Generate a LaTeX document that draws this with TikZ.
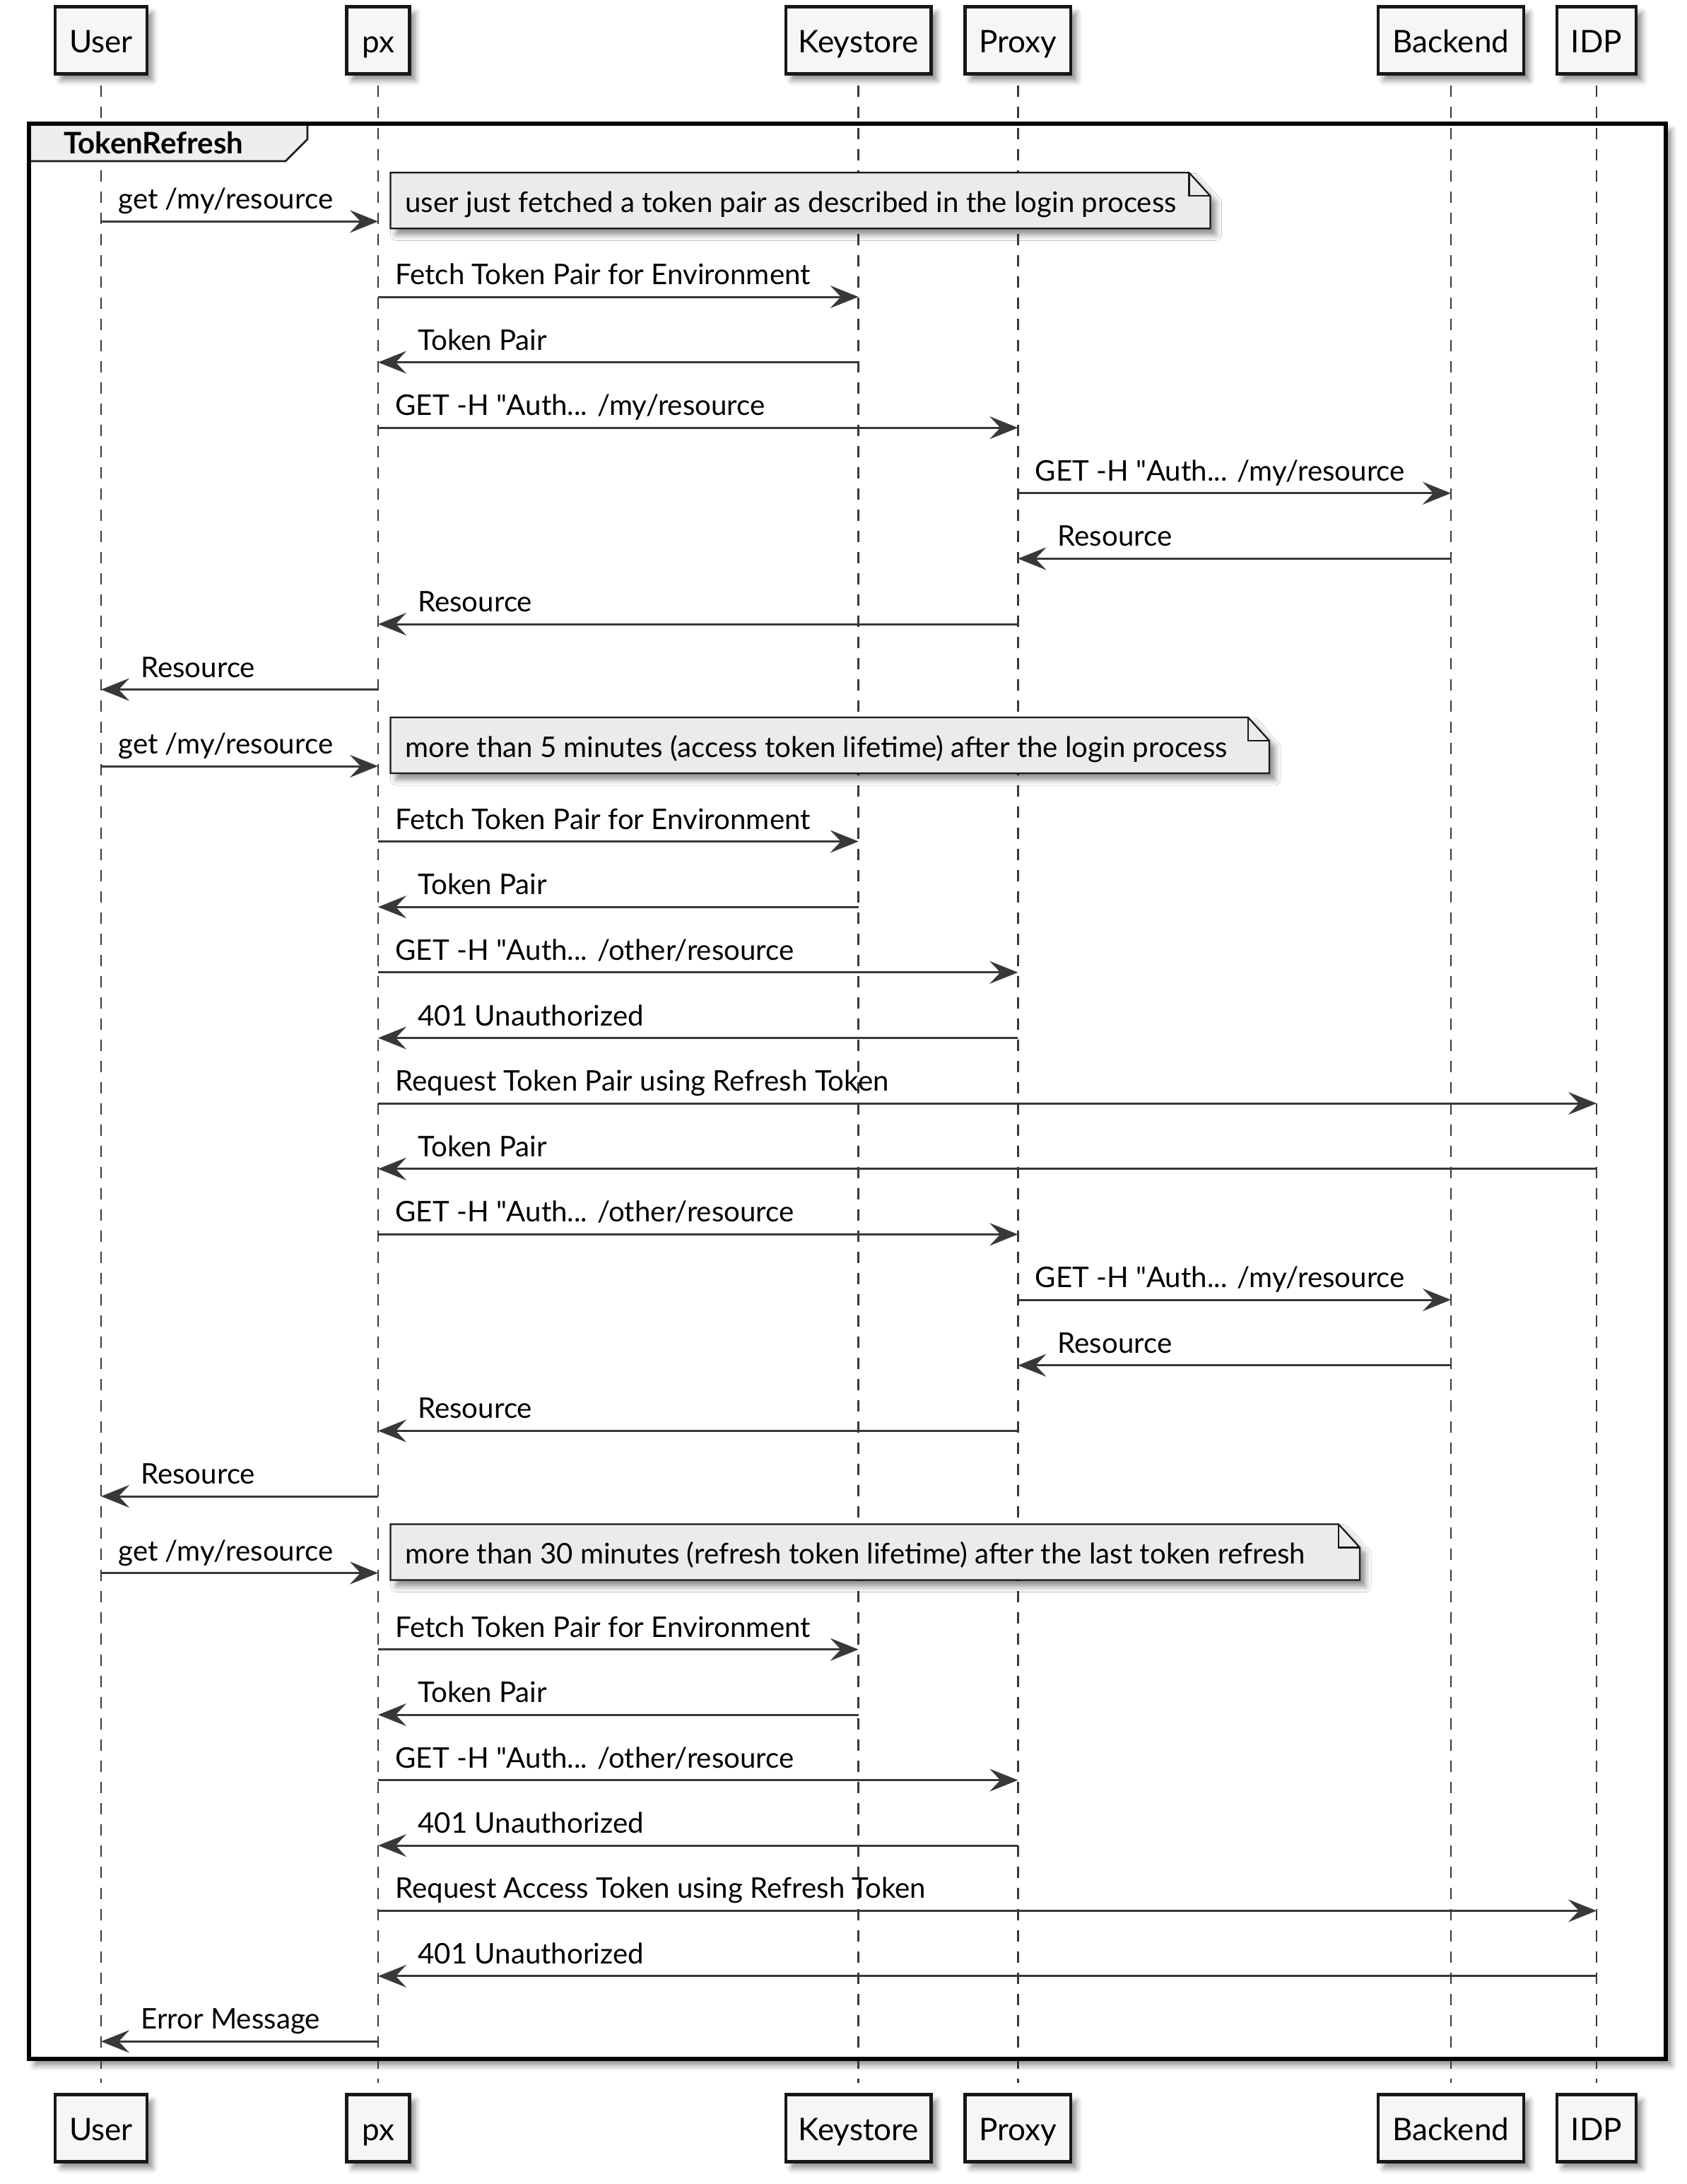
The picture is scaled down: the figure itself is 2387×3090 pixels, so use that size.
\documentclass[tikz,border=0pt]{standalone}
\usepackage{fontspec}
\setmainfont{Lato}
\usetikzlibrary{arrows.meta}
\usetikzlibrary{calc}
\usetikzlibrary{shadows.blur}

\definecolor{lineC}{HTML}{383838}
\definecolor{borderC}{HTML}{181818}
\definecolor{actorF}{HTML}{F6F6F6}
\definecolor{noteF}{HTML}{EBEBEB}
\definecolor{headF}{HTML}{EEEEEE}

\tikzset{
  softshadow/.style={blur shadow={shadow xshift=4pt, shadow yshift=-4.5pt, shadow blur radius=4pt, shadow opacity=45}},
  actor/.style={draw=borderC, fill=actorF, line width=2.2pt, minimum height=47.5pt, inner sep=0pt, text height=21pt, text depth=4pt, font=\fontsize{22}{26}\selectfont, softshadow},
  lifeline/.style={draw=lineC, line width=1.3pt, dash pattern=on 8pt off 7pt, shorten <=7pt, shorten >=7pt},
  msg/.style={draw=lineC, line width=1.5pt, -{Stealth[length=20pt, width=16pt, inset=7.5pt]}},
  msglabel/.style={anchor=base west, inner sep=0pt, font=\fontsize{20.1}{24}\selectfont},
  notebox/.style={draw=borderC, fill=noteF, line width=1.1pt, line join=miter, softshadow},
  grouphead/.style={draw=borderC, fill=headF, line width=1.4pt},
  groupframe/.style={draw=black, line width=3pt}
}

\begin{document}
\begin{tikzpicture}[x=0.5pt, y=-0.5pt]
  \useasboundingbox (0,0) rectangle (2387,3090);

  % frame of the TokenRefresh group
  \fill[white, softshadow] (41,175) rectangle (2357,2913);

  % participants, top and bottom
  \node[actor, minimum width=64.75pt] (user) at (143,57) {User};
  \node[actor, minimum width=44.5pt] (px) at (535,57) {px};
  \node[actor, minimum width=102.75pt] (ks) at (1214.7,57) {Keystore};
  \node[actor, minimum width=74.75pt] (proxy) at (1440.3,57) {Proxy};
  \node[actor, minimum width=103pt] (be) at (2053,57) {Backend};
  \node[actor, minimum width=56.25pt] (idp) at (2259,57) {IDP};

  \node[actor, minimum width=64.75pt] (user2) at (143,3011) {User};
  \node[actor, minimum width=44.5pt] (px2) at (535,3011) {px};
  \node[actor, minimum width=102.75pt] (ks2) at (1214.7,3011) {Keystore};
  \node[actor, minimum width=74.75pt] (proxy2) at (1440.3,3011) {Proxy};
  \node[actor, minimum width=103pt] (be2) at (2053,3011) {Backend};
  \node[actor, minimum width=56.25pt] (idp2) at (2259,3011) {IDP};

  \foreach \p in {user, px, ks, proxy, be, idp}
    \draw[lifeline] (\p.south) -- (\p2.north);

  \draw[grouphead] (41,175) -- (435,175) -- (435,197) -- (404,228) -- (41,228) -- cycle;
  \node[msglabel, font=\fontsize{21}{25}\selectfont\bfseries] (grp) at (90,217) {TokenRefresh};
  \draw[groupframe] (41,175) rectangle (2357,2913);

  % notes
  \foreach \y/\r/\t [count=\i] in {
      313.3/1712.5/{user just fetched a token pair as described in the login process},
      1084/1796/{more than 5 minutes (access token lifetime) after the login process},
      2225.5/1924/{more than 30 minutes (refresh token lifetime) after the last token refresh}
    }{
    \draw[notebox] (552.5,\y-69) -- (\r-30,\y-69) -- (\r,\y-36) -- (\r,\y+10) -- (552.5,\y+10) -- cycle;
    \draw[borderC, line width=1.1pt] (\r-30,\y-69) -- (\r-30,\y-36) -- (\r,\y-36);
    \node[msglabel] (note\i) at (573,\y-13) {\t};
  }

  % messages to the right
  \foreach \a/\b/\y/\t [count=\i] in {
      user/px/313.3/{get /my/resource},
      px/ks/420/{Fetch Token Pair for Environment},
      px/proxy/605.2/{GET -H \textquotedbl Auth... /my/resource},
      proxy/be/697.8/{GET -H \textquotedbl Auth... /my/resource},
      user/px/1084/{get /my/resource},
      px/ks/1190.5/{Fetch Token Pair for Environment},
      px/proxy/1375.8/{GET -H \textquotedbl Auth... /other/resource},
      px/idp/1561.1/{Request Token Pair using Refresh Token},
      px/proxy/1746.4/{GET -H \textquotedbl Auth... /other/resource},
      proxy/be/1839/{GET -H \textquotedbl Auth... /my/resource},
      user/px/2225.5/{get /my/resource},
      px/ks/2333.7/{Fetch Token Pair for Environment},
      px/proxy/2518.6/{GET -H \textquotedbl Auth... /other/resource},
      px/idp/2703.4/{Request Access Token using Refresh Token}
    }{
    \draw[msg] (\a |- 0,\y) -- (\b |- 0,\y);
    \node[msglabel] (fwd\i) at ($(\a |- 0,\y)+(24,-17.5)$) {\t};
  }

  % messages to the left
  \foreach \a/\b/\y/\t [count=\i] in {
      ks/px/512.6/{Token Pair},
      be/proxy/790.4/{Resource},
      proxy/px/883/{Resource},
      px/user/975.6/{Resource},
      ks/px/1283.2/{Token Pair},
      proxy/px/1468.5/{401 Unauthorized},
      idp/px/1653.8/{Token Pair},
      be/proxy/1931.7/{Resource},
      proxy/px/2024.4/{Resource},
      px/user/2117/{Resource},
      ks/px/2426.1/{Token Pair},
      proxy/px/2611/{401 Unauthorized},
      idp/px/2795.9/{401 Unauthorized},
      px/user/2888.3/{Error Message}
    }{
    \draw[msg] (\a |- 0,\y) -- (\b |- 0,\y);
    \node[msglabel] (back\i) at ($(\b |- 0,\y)+(56,-17.5)$) {\t};
  }
\end{tikzpicture}
\end{document}
